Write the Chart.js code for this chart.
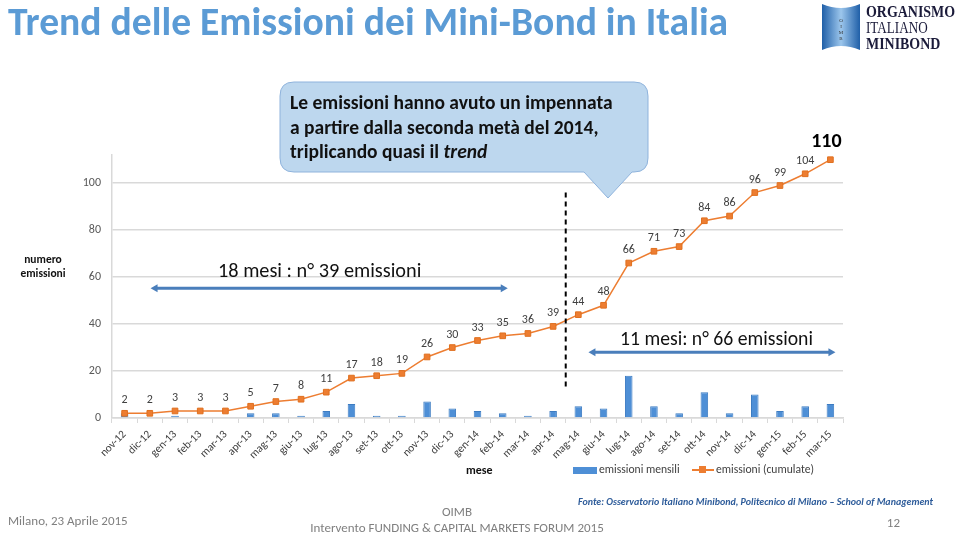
<!DOCTYPE html>
<html>
<head>
<meta charset="utf-8">
<script src="https://cdn.jsdelivr.net/npm/chart.js@4.4.0/dist/chart.umd.min.js"></script>
<style>
  body { margin: 0; background: #fff; }
  #page { position: relative; width: 960px; height: 535px; overflow: hidden; font-family: Carlito, Lato, sans-serif; }
  .t { position: absolute; white-space: nowrap; line-height: 1; }
  #chart { position: absolute; left: 0; top: 0; }
  .logo { position: absolute; left: 866px; white-space: nowrap; line-height: 1; font-family: 'Liberation Serif', serif; color: #1B1B3A; transform: scaleX(0.82); transform-origin: left top; }
</style>
</head>
<body>
<div id="page">
  <canvas id="chart" width="960" height="535"></canvas>

  <!-- title + logo -->
  <div class="t" style="left:8px; top:2px; font-size:39.6px; font-weight:bold; color:#5B9BD5;">Trend delle Emissioni dei Mini-Bond in Italia</div>
  <svg style="position:absolute; left:820px; top:2px;" width="44" height="50">
    <defs>
      <linearGradient id="lg" x1="0" y1="0" x2="1" y2="0">
        <stop offset="0" stop-color="#1F5FA8"/>
        <stop offset="0.5" stop-color="#9CC6EC"/>
        <stop offset="1" stop-color="#1F5FA8"/>
      </linearGradient>
    </defs>
    <path d="M2,2 Q21,10 40,2 L40,48 Q21,40 2,48 Z" fill="url(#lg)"/>
    <text x="21" y="20" font-size="5" text-anchor="middle" fill="#333" font-family="Liberation Serif">O</text>
    <text x="21" y="26" font-size="5" text-anchor="middle" fill="#333" font-family="Liberation Serif">I</text>
    <text x="21" y="32" font-size="5" text-anchor="middle" fill="#333" font-family="Liberation Serif">M</text>
    <text x="21" y="38" font-size="5" text-anchor="middle" fill="#333" font-family="Liberation Serif">B</text>
  </svg>
  <div class="logo" style="top:3px; font-size:17px; font-weight:bold;">ORGANISMO</div>
  <div class="logo" style="top:20px; font-size:16px;">ITALIANO</div>
  <div class="logo" style="top:35px; font-size:17px; font-weight:bold;">MINIBOND</div>

  <!-- callout -->
  <svg style="position:absolute; left:0; top:0;" width="960" height="535">
    <path d="M294,82 L634,82 Q648,82 648,96 L648,158 Q648,172 634,172 L632,172 L608,198 L584,172 L294,172 Q280,172 280,158 L280,96 Q280,82 294,82 Z"
          fill="#BDD7EE" stroke="#8FB3DC" stroke-width="1"/>
  </svg>
  <div class="t" style="left:290px; top:90px; font-size:19.5px; font-weight:bold; color:#111; line-height:24.5px;">
    Le emissioni hanno avuto un impennata<br>a partire dalla seconda metà del 2014,<br>triplicando quasi il <i>trend</i>
  </div>

  <!-- axis title, annotations -->
  <div class="t" style="left:43px; top:252px; transform:translateX(-50%); text-align:center; font-size:11.5px; font-weight:bold; color:#111; line-height:14px;">numero<br>emissioni</div>
  <div class="t" style="left:218px; top:260px; font-size:20.3px; color:#111;">18 mesi : n° 39 emissioni</div>
  <div class="t" style="left:620px; top:329px; font-size:19.7px; color:#111;">11 mesi: n° 66 emissioni</div>

  <!-- x title + legend -->
  <div class="t" style="left:466px; top:464px; font-size:12px; font-weight:bold; color:#111;">mese</div>
  <div style="position:absolute; left:573px; top:467px; width:24px; height:7px; background:#4E8FD6;"></div>
  <div class="t" style="left:599px; top:464px; font-size:11.6px; color:#404040;">emissioni mensili</div>
  <div style="position:absolute; left:692px; top:469px; width:22px; height:1.5px; background:#ED7D31;"></div>
  <div style="position:absolute; left:699px; top:466px; width:7px; height:7px; background:#ED7D31;"></div>
  <div class="t" style="left:716px; top:464px; font-size:11.6px; color:#404040;">emissioni (cumulate)</div>

  <!-- footer -->
  <div class="t" style="right:27px; top:497px; font-size:10px; font-weight:bold; font-style:italic; color:#2E5C9A;">Fonte: Osservatorio Italiano Minibond, Politecnico di Milano – School of Management</div>
  <div class="t" style="left:8px; top:514px; font-size:13px; color:#7F7F7F;">Milano, 23 Aprile 2015</div>
  <div class="t" style="left:457px; top:505px; transform:translateX(-50%); font-size:13px; color:#7F7F7F;">OIMB</div>
  <div class="t" style="left:457px; top:521px; transform:translateX(-50%); font-size:13px; color:#7F7F7F;">Intervento FUNDING &amp; CAPITAL MARKETS FORUM 2015</div>
  <div class="t" style="right:60px; top:516px; font-size:13px; color:#7F7F7F;">12</div>
</div>

<script>
// months on the x axis
let months = [
  "nov-12", "dic-12",
  "gen-13", "feb-13", "mar-13", "apr-13", "mag-13", "giu-13",
  "lug-13", "ago-13", "set-13", "ott-13", "nov-13", "dic-13",
  "gen-14", "feb-14", "mar-14", "apr-14", "mag-14", "giu-14",
  "lug-14", "ago-14", "set-14", "ott-14", "nov-14", "dic-14",
  "gen-15", "feb-15", "mar-15",
];

// emissioni mensili (bars)
let monthly = [2, 0, 1, 0, 0, 2, 2, 1, 3, 6, 1, 1, 7, 4, 3, 2, 1, 3, 5, 4, 18, 5, 2, 11, 2, 10, 3, 5, 6];

// emissioni cumulate (line)
let cumulative = [2, 2, 3, 3, 3, 5, 7, 8, 11, 17, 18, 19, 26, 30, 33, 35, 36, 39, 44, 48, 66, 71, 73, 84, 86, 96, 99, 104, 110];

// y axis tick labels
let yTicks = [0, 20, 40, 60, 80, 100];

let tickFont = { family: "Carlito, Lato, sans-serif", size: 12 };
let xTickFont = { family: "Carlito, Lato, sans-serif", size: 11.2 };

// value labels above the cumulative points
let pointLabels = {
  id: "pointLabels",
  afterDatasetsDraw(chart) {
    let ctx = chart.ctx;
    let meta = chart.getDatasetMeta(1);
    ctx.save();
    ctx.textAlign = "center";
    ctx.textBaseline = "alphabetic";
    meta.data.forEach(function (pt, i) {
      let last = i === cumulative.length - 1;
      ctx.fillStyle = last ? "#000" : "#404040";
      ctx.font = (last ? "bold 20px " : "12px ") + "Carlito, Lato, sans-serif";
      ctx.fillText(String(cumulative[i]), pt.x - (last ? 4 : 0), pt.y - (last ? 13 : 10));
    });
    ctx.restore();
  },
};

// arrows + dashed separator
function arrow(ctx, x1, x2, y) {
  ctx.beginPath();
  ctx.moveTo(x1 + 4, y);
  ctx.lineTo(x2 - 4, y);
  ctx.stroke();
  [[x1, 1], [x2, -1]].forEach(function (a) {
    ctx.beginPath();
    ctx.moveTo(a[0], y);
    ctx.lineTo(a[0] + a[1] * 7, y - 4);
    ctx.lineTo(a[0] + a[1] * 7, y + 4);
    ctx.closePath();
    ctx.fill();
  });
}

let annotations = {
  id: "annotations",
  afterDraw(chart) {
    let ctx = chart.ctx;
    let x = chart.scales.x;
    let y = chart.scales.y;
    ctx.save();
    ctx.strokeStyle = "#4A7EBB";
    ctx.fillStyle = "#4A7EBB";
    ctx.lineWidth = 3;
    arrow(ctx, x.getPixelForValue(1.03), x.getPixelForValue(15.2), y.getPixelForValue(55.3));
    arrow(ctx, x.getPixelForValue(18.4), x.getPixelForValue(28.2), y.getPixelForValue(28));

    ctx.strokeStyle = "#000";
    ctx.lineWidth = 2;
    ctx.setLineDash([5, 4]);
    let sx = x.getPixelForValue(17.5);
    ctx.beginPath();
    ctx.moveTo(sx, y.getPixelForValue(96));
    ctx.lineTo(sx, y.getPixelForValue(13));
    ctx.stroke();
    ctx.restore();
  },
};

new Chart(document.getElementById("chart"), {
  data: {
    labels: months,
    datasets: [
      {
        type: "bar",
        label: "emissioni mensili",
        data: monthly,
        backgroundColor: "#4E8FD6",
        borderColor: "#3D7CC2",
        borderWidth: 1,
        barPercentage: 0.3,
        categoryPercentage: 1,
        order: 1,
      },
      {
        type: "line",
        label: "emissioni (cumulate)",
        data: cumulative,
        borderColor: "#ED7D31",
        borderWidth: 1.5,
        pointStyle: "rect",
        pointRadius: 4,
        pointBackgroundColor: "#ED7D31",
        pointBorderColor: "#E0701F",
        pointBorderWidth: 1,
        tension: 0,
        order: 0,
      },
    ],
  },
  options: {
    responsive: false,
    animation: false,
    layout: { padding: { left: 72, right: 117, top: 155, bottom: 65 } },
    plugins: {
      legend: { display: false },
      tooltip: { enabled: false },
    },
    scales: {
      x: {
        offset: true,
        grid: { display: true, drawOnChartArea: false, offset: true, tickLength: 5, color: "#D9D9D9" },
        border: { color: "#D9D9D9", width: 1.5 },
        ticks: { autoSkip: false, minRotation: 45, maxRotation: 45, font: xTickFont, color: "#404040", padding: 5 },
        afterFit(s) { s.height = 52; },
      },
      y: {
        min: 0,
        max: 112,
        afterBuildTicks(s) { s.ticks = yTicks.map(function (v) { return { value: v }; }); },
        grid: { color: "#D9D9D9", lineWidth: 1.5, drawTicks: false },
        border: { display: true, color: "#D9D9D9", width: 1.5 },
        ticks: { font: tickFont, color: "#595959", padding: 11 },
        afterFit(s) { s.width = 40; },
      },
    },
  },
  plugins: [pointLabels, annotations],
});
</script>
</body>
</html>
